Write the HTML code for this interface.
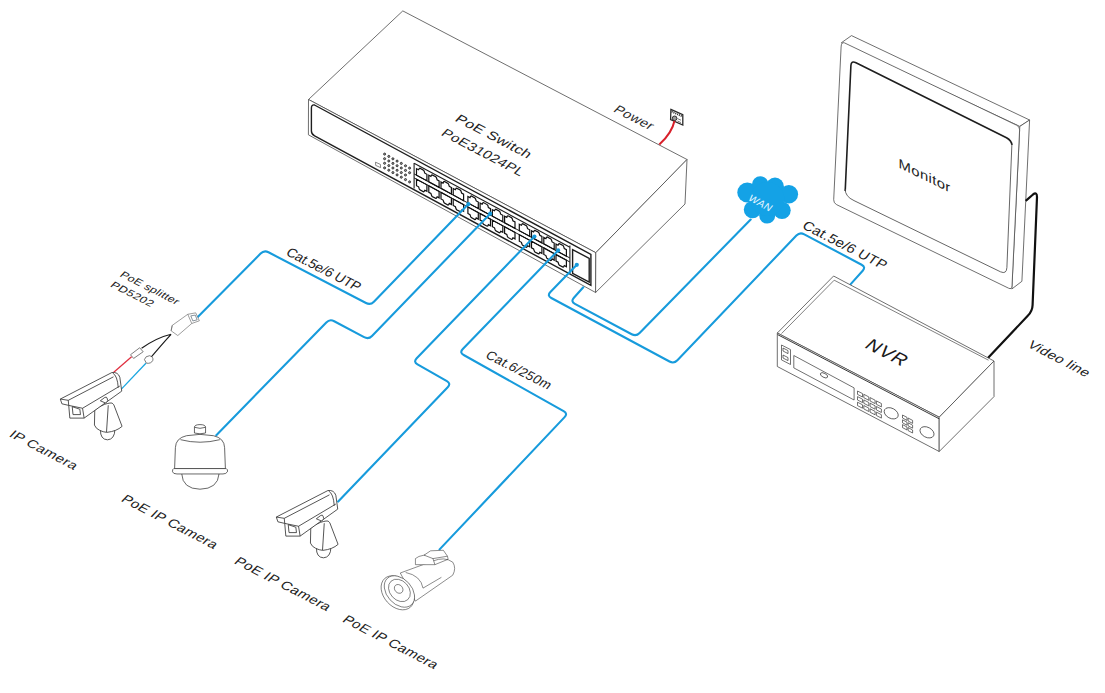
<!DOCTYPE html>
<html><head><meta charset="utf-8"><style>
html,body{margin:0;padding:0;background:#fff;}
svg{display:block;font-family:"Liberation Sans", sans-serif;}
</style></head><body>
<svg width="1105" height="693" viewBox="0 0 1105 693">
<g fill="#fff" stroke="#4a4a4a" stroke-width="0.8" stroke-linejoin="round">
<polygon points="402.8,10.9 687.0,159.5 595.8,252.7 308.5,99.5" />
<polygon points="308.5,99.5 595.8,252.7 595.6,292.5 308.4,134.8" />
<polygon points="595.8,252.7 687.0,159.5 685.0,204.0 595.6,292.5" />
</g>
<path d="M314.5,105.0 L590.9,254.4 L590.9,285.4 L314.6,135.8 Q311.4,134.2 311.4,131 L311.4,108 Q311.4,104.4 314.5,105.0 Z" fill="none" stroke="#1e1e1e" stroke-width="1.4"/>
<g fill="none" stroke="#1e1e1e" stroke-width="1.1">
<line x1="414.1" y1="163.0" x2="414.1" y2="188.6"/>
<line x1="414.1" y1="163.2" x2="569.9" y2="247.3" stroke-width="1.1"/>
<line x1="414.1" y1="173.9" x2="569.9" y2="258.0" stroke-width="1.0"/>
<line x1="414.1" y1="177.9" x2="569.9" y2="262.0" stroke-width="1.0"/>
<polygon points="416.5,168.7 418.6,169.8 419.3,168.4 419.9,168.2 423.5,170.2 424.1,171.0 424.8,173.2 426.9,174.3 426.9,180.8 416.5,175.2" stroke-width="1.2" stroke="#111"/>
<polygon points="416.5,179.2 426.9,184.8 426.9,191.3 424.8,190.2 424.1,191.6 423.5,191.8 419.9,189.8 419.3,189.0 418.6,186.8 416.5,185.7" stroke-width="1.2" stroke="#111"/>
<polygon points="428.8,175.3 430.9,176.4 431.6,175.0 432.1,174.9 435.8,176.8 436.4,177.6 437.1,179.8 439.1,180.9 439.1,187.4 428.8,181.8" stroke-width="1.2" stroke="#111"/>
<polygon points="428.8,185.8 439.1,191.4 439.1,197.9 437.1,196.8 436.4,198.2 435.8,198.4 432.1,196.5 431.6,195.6 430.9,193.4 428.8,192.3" stroke-width="1.2" stroke="#111"/>
<polygon points="441.0,181.9 443.1,183.1 443.8,181.6 444.4,181.5 448.0,183.4 448.6,184.2 449.3,186.4 451.4,187.5 451.4,194.0 441.0,188.4" stroke-width="1.2" stroke="#111"/>
<polygon points="441.0,192.4 451.4,198.0 451.4,204.5 449.3,203.4 448.6,204.8 448.0,205.0 444.4,203.1 443.8,202.2 443.1,200.1 441.0,198.9" stroke-width="1.2" stroke="#111"/>
<polygon points="453.2,188.5 455.4,189.7 456.1,188.3 456.6,188.1 460.2,190.0 460.9,190.8 461.6,193.0 463.6,194.2 463.6,200.7 453.2,195.0" stroke-width="1.2" stroke="#111"/>
<polygon points="453.2,199.0 463.6,204.7 463.6,211.2 461.6,210.0 460.9,211.4 460.2,211.6 456.6,209.7 456.1,208.9 455.4,206.7 453.2,205.5" stroke-width="1.2" stroke="#111"/>
<polygon points="467.9,196.5 470.0,197.6 470.7,196.2 471.3,196.0 474.9,197.9 475.5,198.8 476.2,200.9 478.3,202.1 478.3,208.6 467.9,203.0" stroke-width="1.2" stroke="#111"/>
<polygon points="467.9,207.0 478.3,212.6 478.3,219.1 476.2,217.9 475.5,219.4 474.9,219.5 471.3,217.6 470.7,216.8 470.0,214.6 467.9,213.5" stroke-width="1.2" stroke="#111"/>
<polygon points="480.1,203.1 482.2,204.2 482.9,202.8 483.5,202.6 487.1,204.6 487.8,205.4 488.4,207.6 490.5,208.7 490.5,215.2 480.1,209.6" stroke-width="1.2" stroke="#111"/>
<polygon points="480.1,213.6 490.5,219.2 490.5,225.7 488.4,224.6 487.8,226.0 487.1,226.2 483.5,224.2 482.9,223.4 482.2,221.2 480.1,220.1" stroke-width="1.2" stroke="#111"/>
<polygon points="492.4,209.7 494.5,210.8 495.2,209.4 495.8,209.2 499.4,211.2 500.0,212.0 500.7,214.2 502.8,215.3 502.8,221.8 492.4,216.2" stroke-width="1.2" stroke="#111"/>
<polygon points="492.4,220.2 502.8,225.8 502.8,232.3 500.7,231.2 500.0,232.6 499.4,232.8 495.8,230.8 495.2,230.0 494.5,227.8 492.4,226.7" stroke-width="1.2" stroke="#111"/>
<polygon points="504.6,216.3 506.8,217.4 507.4,216.0 508.0,215.8 511.6,217.8 512.2,218.6 512.9,220.8 515.0,221.9 515.0,228.4 504.6,222.8" stroke-width="1.2" stroke="#111"/>
<polygon points="504.6,226.8 515.0,232.4 515.0,238.9 512.9,237.8 512.2,239.2 511.6,239.4 508.0,237.4 507.4,236.6 506.8,234.4 504.6,233.3" stroke-width="1.2" stroke="#111"/>
<polygon points="519.3,224.2 521.4,225.3 522.1,223.9 522.7,223.7 526.3,225.7 526.9,226.5 527.6,228.7 529.7,229.8 529.7,236.3 519.3,230.7" stroke-width="1.2" stroke="#111"/>
<polygon points="519.3,234.7 529.7,240.3 529.7,246.8 527.6,245.7 526.9,247.1 526.3,247.3 522.7,245.3 522.1,244.5 521.4,242.3 519.3,241.2" stroke-width="1.2" stroke="#111"/>
<polygon points="531.5,230.8 533.6,232.0 534.3,230.5 534.9,230.4 538.5,232.3 539.1,233.1 539.8,235.3 541.9,236.4 541.9,242.9 531.5,237.3" stroke-width="1.2" stroke="#111"/>
<polygon points="531.5,241.3 541.9,246.9 541.9,253.4 539.8,252.3 539.1,253.7 538.5,253.9 534.9,252.0 534.3,251.1 533.6,249.0 531.5,247.8" stroke-width="1.2" stroke="#111"/>
<polygon points="543.8,237.4 545.9,238.6 546.6,237.2 547.2,237.0 550.8,238.9 551.4,239.7 552.1,241.9 554.2,243.1 554.2,249.6 543.8,243.9" stroke-width="1.2" stroke="#111"/>
<polygon points="543.8,247.9 554.2,253.6 554.2,260.1 552.1,258.9 551.4,260.3 550.8,260.5 547.2,258.6 546.6,257.8 545.9,255.6 543.8,254.4" stroke-width="1.2" stroke="#111"/>
<polygon points="556.0,244.1 558.1,245.2 558.8,243.8 559.4,243.6 563.0,245.5 563.6,246.4 564.3,248.5 566.4,249.7 566.4,256.2 556.0,250.6" stroke-width="1.2" stroke="#111"/>
<polygon points="556.0,254.6 566.4,260.2 566.4,266.7 564.3,265.5 563.6,267.0 563.0,267.1 559.4,265.2 558.8,264.4 558.1,262.2 556.0,261.1" stroke-width="1.2" stroke="#111"/>
<line x1="569.9" y1="245.5" x2="569.9" y2="273.6"/>
</g>
<path d="M572.6,249.6 L589.2,258.4 L589.2,282.2 L572.6,273.3 Z" fill="none" stroke="#1e1e1e" stroke-width="1.4"/>
<g fill="#999" stroke="#1a1a1a" stroke-width="0.8"><circle cx="384.6" cy="154.1" r="1.05"/><circle cx="384.6" cy="158.7" r="1.05"/><circle cx="384.6" cy="163.3" r="1.05"/><circle cx="384.6" cy="167.9" r="1.05"/><circle cx="388.8" cy="156.4" r="1.05"/><circle cx="388.8" cy="161.0" r="1.05"/><circle cx="388.8" cy="165.6" r="1.05"/><circle cx="388.8" cy="170.2" r="1.05"/><circle cx="392.9" cy="158.8" r="1.05"/><circle cx="392.9" cy="163.4" r="1.05"/><circle cx="392.9" cy="168.0" r="1.05"/><circle cx="392.9" cy="172.6" r="1.05"/><circle cx="397.1" cy="161.1" r="1.05"/><circle cx="397.1" cy="165.7" r="1.05"/><circle cx="397.1" cy="170.3" r="1.05"/><circle cx="397.1" cy="174.9" r="1.05"/><circle cx="401.3" cy="163.4" r="1.05"/><circle cx="401.3" cy="168.0" r="1.05"/><circle cx="401.3" cy="172.6" r="1.05"/><circle cx="401.3" cy="177.2" r="1.05"/><circle cx="405.5" cy="165.8" r="1.05"/><circle cx="405.5" cy="170.4" r="1.05"/><circle cx="405.5" cy="175.0" r="1.05"/><circle cx="405.5" cy="179.6" r="1.05"/><circle cx="409.6" cy="168.1" r="1.05"/><circle cx="409.6" cy="172.7" r="1.05"/><circle cx="409.6" cy="181.9" r="1.05"/></g>
<path d="M375.5,162.2 L380.4,164.4 L380.6,167.6 L375.7,165.4 Z" fill="none" stroke="#555" stroke-width="0.7"/>
<text transform="matrix(1.0705,0.5597,-0.6691,0.7431,454.0,120.4)" font-size="12.9" fill="#222" textLength="68.71" lengthAdjust="spacing" >PoE Switch</text>
<text transform="matrix(1.0071,0.5265,-0.6691,0.7431,440.2,134.8)" font-size="12.9" fill="#222" textLength="79.20" lengthAdjust="spacing" >PoE31024PL</text>
<text transform="matrix(0.9634,0.4909,-0.6820,0.7314,612.6,111.2)" font-size="13.0" fill="#2a2a2a" textLength="38.38" lengthAdjust="spacing" >Power</text>
<path d="M670.9,109.4 L682.8,114.6 L682.8,125.0 L670.6,119.6 Z" fill="#fff" stroke="#2a2a2a" stroke-width="1.3"/>
<path d="M671.6,111.6 L682.2,116.4" stroke="#333" stroke-width="1.8" stroke-dasharray="1.1,0.9"/>
<path d="M677.5,118.6 L681,120.2 M677.5,121 L681,122.6" stroke="#444" stroke-width="0.7"/>
<path d="M659.3,144.6 Q672,133 674.6,120.5" fill="none" stroke="#d81f2a" stroke-width="2"/>
<circle cx="674.6" cy="118.3" r="2.3" fill="#9a9a9a" stroke="#222" stroke-width="0.9"/>
<path d="M468.4,204.1 L373.9,301.7 Q370.4,305.3 366.0,303.0 L268.5,252.3 Q264.1,250.0 260.6,253.6 L196.5,318.3" fill="none" stroke="#179bdc" stroke-width="2.1" stroke-linecap="round"/>
<path d="M490.2,213.7 L372.0,335.9 Q368.5,339.5 364.1,337.1 L334.2,321.2 Q329.8,318.8 326.3,322.4 L216.3,435.2" fill="none" stroke="#179bdc" stroke-width="2.1" stroke-linecap="round"/>
<path d="M534.4,236.5 L416.7,358.3 Q413.2,361.9 417.5,364.4 L446.9,381.1 Q451.2,383.6 447.7,387.2 L338.2,501.6" fill="none" stroke="#179bdc" stroke-width="2.1" stroke-linecap="round"/>
<path d="M558.1,250.4 L462.8,349.0 Q459.3,352.6 463.7,355.0 L563.6,411.1 Q568.0,413.5 564.6,417.1 L439.6,549.4" fill="none" stroke="#179bdc" stroke-width="2.1" stroke-linecap="round"/>
<path d="M576.8,264.8 L550.4,292.0 Q546.9,295.6 551.3,298.0 L669.5,361.5 Q673.9,363.9 677.4,360.3 L796.4,235.5 Q799.9,231.9 804.3,234.3 L861.6,264.7 Q866.0,267.1 862.7,270.8 L850.7,284.1" fill="none" stroke="#179bdc" stroke-width="2.1" stroke-linecap="round"/>
<path d="M583.3,287.3 L573.9,297.7 Q570.5,301.4 574.9,303.8 L631.7,334.2 Q636.1,336.6 639.6,333.0 L750.7,219.5" fill="none" stroke="#179bdc" stroke-width="2.1" stroke-linecap="round"/>
<circle cx="468.4" cy="204.1" r="2.1" fill="#179bdc"/>
<circle cx="490.2" cy="213.7" r="2.1" fill="#179bdc"/>
<circle cx="534.4" cy="236.5" r="2.1" fill="#179bdc"/>
<circle cx="558.1" cy="250.4" r="2.1" fill="#179bdc"/>
<circle cx="576.8" cy="264.8" r="2.1" fill="#179bdc"/>
<text transform="matrix(0.8894,0.4571,-0.6018,0.7986,285.0,254.6)" font-size="13.6" fill="#222" textLength="81.00" lengthAdjust="spacing" >Cat.5e/6 UTP</text>
<text transform="matrix(0.8894,0.4571,-0.6157,0.7880,484.6,357.2)" font-size="13.2" fill="#222" textLength="71.00" lengthAdjust="spacing" >Cat.6/250m</text>
<text transform="matrix(0.9535,0.4900,-0.6018,0.7986,801.2,227.8)" font-size="13.6" fill="#222" textLength="85.82" lengthAdjust="spacing" >Cat.5e/6 UTP</text>
<g fill="#14a2e6"><circle cx="747.3" cy="192.5" r="10.0"/><circle cx="760.3" cy="184.7" r="8.4"/><circle cx="775.0" cy="186.5" r="8.9"/><circle cx="788.9" cy="194.2" r="9.2"/><circle cx="782.0" cy="210.3" r="8.7"/><circle cx="767.2" cy="215.6" r="8.0"/><circle cx="752.5" cy="209.6" r="8.7"/><circle cx="767.2" cy="199.0" r="17.0"/></g>
<text transform="matrix(0.9048,0.4811,-0.6428,0.7660,747.2,199.8)" font-size="10.2" fill="#e8f6ff" textLength="24.40" lengthAdjust="spacing" >WAN</text>
<g fill="#fff" stroke="#4a4a4a" stroke-width="0.8" stroke-linejoin="round">
<polygon points="841.3,42.8 851.5,35.6 1029.6,120.0 1019.8,126.4" />
<polygon points="1019.8,126.4 1029.6,120.0 1021.9,281.3 1011.8,289.0" />
<path d="M844.5,42.9 L1016.8,125.3 Q1019.8,126.8 1019.6,130 L1012,286 Q1011.8,289.7 1008.6,288.2 L836.7,204.7 Q833.5,203.1 833.7,199.7 L841.1,47 Q841.3,41.6 844.5,42.9 Z"/>
</g>
<path d="M845.2,191 L850.9,65.5 Q851.2,60.5 856,62.8 L1006.5,137.8 Q1011.6,140.6 1011.9,145" fill="none" stroke="#1e1e1e" stroke-width="1.6"/>
<path d="M1011.9,144 L1006.9,267.5 Q1006.6,274.5 1000.5,271.8 L854,200.6 Q845,196.5 845.2,189" fill="none" stroke="#4a4a4a" stroke-width="0.85"/>
<text transform="matrix(1.1178,0.5476,0.0000,1.0000,898.6,167.4)" font-size="13.3" fill="#222" textLength="46.19" lengthAdjust="spacing" >Monitor</text>
<path d="M1025.7,200.8 L1033,194.5 Q1037,191.5 1037,197 L1032.6,305 Q1032.4,311 1028,315.5 L987.2,358.8" fill="none" stroke="#111" stroke-width="2.2"/>
<text transform="matrix(1.0034,0.5223,-0.7071,0.7071,1026.4,346.3)" font-size="13.0" fill="#222" textLength="59.23" lengthAdjust="spacing" >Video line</text>
<g fill="#fff" stroke="#4a4a4a" stroke-width="0.8" stroke-linejoin="round">
<polygon points="833.6,276.0 994.0,361.0 939.2,417.2 777.3,333.0" />
<polygon points="777.3,333.0 939.2,417.2 939.2,451.5 777.3,366.5" />
<polygon points="939.2,417.2 994.0,361.0 994.0,396.6 939.2,451.5" />
</g>
<path d="M781.5,333.6 L834.2,280.2 L988.5,360.2" fill="none" stroke="#4a4a4a" stroke-width="0.7"/>
<path d="M777.6,334.6 L939.2,418.8" fill="none" stroke="#222" stroke-width="0.9"/>
<text transform="matrix(0.9366,0.4876,-0.7193,0.6947,863.6,346.9)" font-size="18.3" fill="#1a1a1a" textLength="40.25" lengthAdjust="spacing" >NVR</text>
<g fill="none" stroke="#333" stroke-width="0.7">
<path d="M781.5,345 L790.5,349.6 L790.5,364.5 L781.5,359.9 Z"/>
<path d="M783,348 l5,2.6 l0,3 l-5,-2.6 Z M783,355 l5,2.6 l0,3 l-5,-2.6 Z"/>
<path d="M793.8,355.5 L854.1,387.9 L854.1,400 L793.8,367.9 Z"/>
<ellipse cx="824" cy="375.3" rx="4" ry="2" transform="rotate(28 824 375.3)"/>
<path d="M857.5,391.0 l5,2.6 l0,3.4 l-5,-2.6 Z"/>
<path d="M857.5,396.6 l5,2.6 l0,3.4 l-5,-2.6 Z"/>
<path d="M857.5,402.2 l5,2.6 l0,3.4 l-5,-2.6 Z"/>
<path d="M863.8,394.3 l5,2.6 l0,3.4 l-5,-2.6 Z"/>
<path d="M863.8,399.9 l5,2.6 l0,3.4 l-5,-2.6 Z"/>
<path d="M863.8,405.5 l5,2.6 l0,3.4 l-5,-2.6 Z"/>
<path d="M870.1,397.6 l5,2.6 l0,3.4 l-5,-2.6 Z"/>
<path d="M870.1,403.2 l5,2.6 l0,3.4 l-5,-2.6 Z"/>
<path d="M870.1,408.8 l5,2.6 l0,3.4 l-5,-2.6 Z"/>
<path d="M876.4,400.9 l5,2.6 l0,3.4 l-5,-2.6 Z"/>
<path d="M876.4,406.5 l5,2.6 l0,3.4 l-5,-2.6 Z"/>
<path d="M876.4,412.1 l5,2.6 l0,3.4 l-5,-2.6 Z"/>
<ellipse cx="891.2" cy="413.3" rx="7.5" ry="5" transform="rotate(28 891.2 413.3)"/>
<path d="M902.5,415.0 l4.5,2.4 l0,3 l-4.5,-2.4 Z"/>
<path d="M902.5,419.8 l4.5,2.4 l0,3 l-4.5,-2.4 Z"/>
<path d="M902.5,424.6 l4.5,2.4 l0,3 l-4.5,-2.4 Z"/>
<path d="M908.1,418.0 l4.5,2.4 l0,3 l-4.5,-2.4 Z"/>
<path d="M908.1,422.8 l4.5,2.4 l0,3 l-4.5,-2.4 Z"/>
<path d="M908.1,427.6 l4.5,2.4 l0,3 l-4.5,-2.4 Z"/>
<ellipse cx="927" cy="432.3" rx="7.5" ry="5" transform="rotate(28 927 432.3)"/>
</g>
<g transform="translate(100,260) scale(0.15873)" fill="#fff" stroke="#555" stroke-width="3.6" stroke-linejoin="round">
<path d="M455,412 L553,342 L603,333 L626,383 L578,400 L490,476 L448,446 Z"/>
<path d="M455,412 L448,446" fill="none"/>
<path d="M553,342 L578,400" fill="none"/>
<path d="M572,352 L600,347 L612,377 L585,384 Z" stroke="#345" />
<path d="M448,468 Q360,488 262,556 M448,468 Q395,525 322,612" fill="none" stroke="#1a1a1a" stroke-width="7.5"/>
<path d="M192,597 L250,553 L272,578 L212,620 Z" stroke="#333" stroke-width="4"/>
<path d="M280,627 Q285,605 312,603 Q338,610 333,632 Q322,655 292,650 Z" stroke="#333" stroke-width="4"/>
</g>
<path d="M131.6,356.8 L113.5,372.4" stroke="#e03040" stroke-width="1.3" fill="none"/>
<path d="M145.9,363.3 L121.6,388.9" stroke="#1aa6e0" stroke-width="1.3" fill="none"/>
<g transform="translate(50.0,340.0) scale(0.15873)" fill="#fff" stroke="#2a2a2a" stroke-width="5" stroke-linejoin="round"><path d="M318,566 Q316,626 362,629 Q408,626 409,562 Z"/><path d="M282,443 L280,536 Q290,560 313,569 Q335,580 358,582 Q420,575 454,544 L402,408 Q392,392 378,397 Q360,400 345,405 Q300,420 282,443 Z"/><path d="M367,411 L356,580" fill="none"/><path d="M65,372 L390,205 Q428,200 440,235 L452,322 L215,492 L125,492 L118,412 L75,402 Z"/><path d="M65,372 L115,380 L400,232 M115,380 L118,412 M118,412 L205,430 L215,492 M205,430 L440,290" fill="none"/><path d="M140,420 L145,470 L192,470 L188,436 Z" fill="none"/><path d="M395,208 Q425,225 430,300" fill="none"/><path d="M317,383 L345,362 Q355,357 359,364 L364,383 L350,397 Z"/></g>
<g transform="translate(266.0,458.0) scale(0.15873)" fill="#fff" stroke="#2a2a2a" stroke-width="5" stroke-linejoin="round"><path d="M318,566 Q316,626 362,629 Q408,626 409,562 Z"/><path d="M282,443 L280,536 Q290,560 313,569 Q335,580 358,582 Q420,575 454,544 L402,408 Q392,392 378,397 Q360,400 345,405 Q300,420 282,443 Z"/><path d="M367,411 L356,580" fill="none"/><path d="M65,372 L390,205 Q428,200 440,235 L452,322 L215,492 L125,492 L118,412 L75,402 Z"/><path d="M65,372 L115,380 L400,232 M115,380 L118,412 M118,412 L205,430 L215,492 M205,430 L440,290" fill="none"/><path d="M140,420 L145,470 L192,470 L188,436 Z" fill="none"/><path d="M395,208 Q425,225 430,300" fill="none"/><path d="M317,383 L345,362 Q355,357 359,364 L364,383 L350,397 Z"/></g>
<g transform="translate(150,400) scale(0.15873)" fill="#fff" stroke="#2a2a2a" stroke-width="4.5">
<path d="M200,465 Q205,560 315,562 Q428,560 435,465"/>
<path d="M160,300 Q162,240 230,225 Q315,208 400,225 Q468,240 470,300 L475,432 L155,432 Z"/>
<path d="M192,250 Q315,282 440,250" fill="none"/>
<path d="M150,432 L480,432 Q492,438 488,452 Q480,466 460,466 L170,466 Q145,466 142,452 Q140,436 150,432 Z"/>
<path d="M280,172 Q280,155 315,155 Q350,155 350,172 L350,208 Q315,218 280,208 Z"/>
<path d="M280,172 Q315,185 350,172" fill="none"/>
</g>
<g transform="translate(370,540) scale(0.10818)" fill="#fff" stroke="#2a2a2a" stroke-width="5" stroke-linejoin="round">
<path d="M280,305 L580,195 Q690,150 765,205 Q800,260 765,325 L420,565 Z"/>
<path d="M330,300 Q470,330 490,445 L660,345" fill="none"/>
<path d="M420,228 L420,172 Q445,148 500,140 L560,140 L582,172 L600,228 Z"/>
<path d="M500,140 L560,100 L678,95 L716,150 L582,172 Z"/>
<path d="M716,150 L722,178 L600,228" fill="none"/>
<ellipse cx="255" cy="488" rx="178" ry="128" transform="rotate(48 255 488)"/>
<ellipse cx="272" cy="476" rx="165" ry="116" transform="rotate(48 272 476)"/>
<ellipse cx="272" cy="466" rx="115" ry="88" transform="rotate(48 272 466)" fill="none"/>
<ellipse cx="265" cy="452" rx="44" ry="36" transform="rotate(48 265 452)" fill="none"/>
</g>
<text transform="matrix(1.0497,0.5348,-0.6820,0.7314,119.0,275.9)" font-size="10.2" fill="#222" textLength="54.33" lengthAdjust="spacing" >PoE splitter</text>
<text transform="matrix(1.0675,0.5439,-0.6820,0.7314,109.5,286.2)" font-size="10.2" fill="#222" textLength="38.39" lengthAdjust="spacing" >PD5202</text>
<text transform="matrix(1.0448,0.5439,-0.6820,0.7314,8.2,436.0)" font-size="12.6" fill="#222" textLength="62.49" lengthAdjust="spacing" >IP Camera</text>
<text transform="matrix(0.9785,0.5072,-0.6820,0.7314,120.2,500.8)" font-size="13.2" fill="#222" textLength="95.27" lengthAdjust="spacing" >PoE IP Camera</text>
<text transform="matrix(0.9785,0.5072,-0.6820,0.7314,233.3,563.0)" font-size="13.2" fill="#222" textLength="95.27" lengthAdjust="spacing" >PoE IP Camera</text>
<text transform="matrix(0.9683,0.5040,-0.6820,0.7314,341.5,621.2)" font-size="13.2" fill="#222" textLength="95.27" lengthAdjust="spacing" >PoE IP Camera</text>
</svg>
</body></html>
